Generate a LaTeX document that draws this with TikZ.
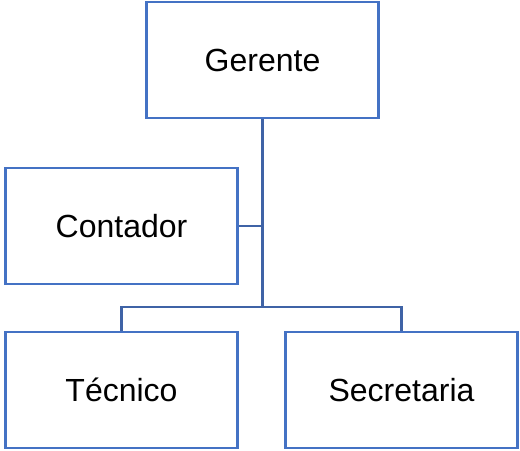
\documentclass[tikz,border=0pt]{standalone}
\usepackage{fontspec}
\setmainfont{Liberation Sans}
\usetikzlibrary{positioning,calc}
\definecolor{boxblue}{HTML}{4472C4}
\definecolor{linkblue}{HTML}{3F63A6}

\begin{document}
\begin{tikzpicture}[x=0.75pt,y=-0.75pt]
\tikzset{post/.style={draw=boxblue,line width=1.7pt,fill=white,minimum width=174pt,minimum height=87pt,inner sep=0pt,font=\fontsize{24}{28}\selectfont},
  link/.style={draw=linkblue,line width=1.7pt}}
\useasboundingbox (0,0) rectangle (520,450);
\node[post] (ger) at (262.5,60) {Gerente};
\node[post] (con) at (121.5,226) {Contador};
\node[post] (tec) at (121.5,390) {Técnico};
\node[post] (sec) at (401.5,390) {Secretaria};
\coordinate (bus) at (262.5,307);
% connectors
\draw[link] (ger.south) -- (bus);
\draw[link] (con.east) -- (con.east -| bus);
\draw[link] (tec.north) |- (bus) -| (sec.north);
\end{tikzpicture}
\end{document}
